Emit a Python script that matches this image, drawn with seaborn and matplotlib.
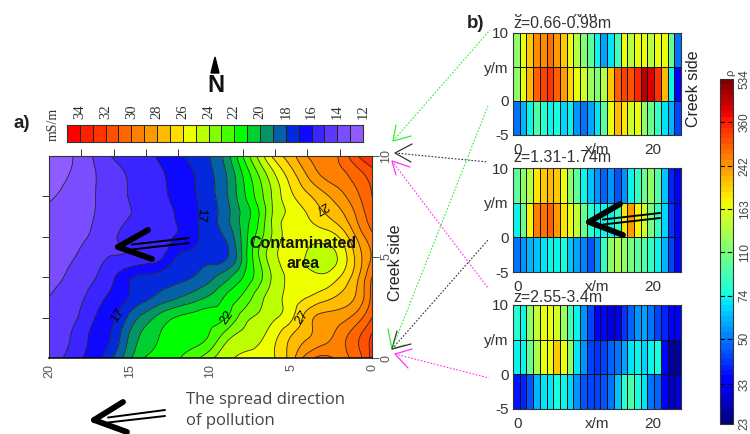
import numpy as np
import pandas as pd
import matplotlib
matplotlib.use("Agg")
import matplotlib.pyplot as plt
import matplotlib.tri as mtri
from matplotlib.cm import ScalarMappable
from matplotlib.colors import BoundaryNorm, ListedColormap, LogNorm
from matplotlib.transforms import Bbox
import seaborn as sns

W, H = 750, 434

# --- mapa de condutividade (a) ---
dist_x = [20, 19, 18, 17, 16, 15, 14, 13, 12, 11, 10, 9, 8, 7, 6, 5, 4, 3, 2, 1, 0]
dist_y = [0, 1, 2, 3, 4, 5, 6, 7, 8, 9, 10]
row_y0 = [14.3, 15.1, 15.95, 16.7, 18.1, 19.8, 21.1, 21.5, 21.9, 22.8, 23.7, 24.7, 25.3, 25.6, 26.0, 27.5, 29.5, 30.3, 29.8, 30.4, 32.4]
row_y1 = [14.5, 14.8, 15.6, 16.4, 17.3, 19.2, 20.4, 21.1, 21.3, 21.6, 22.2, 23.7, 24.3, 24.8, 25.8, 27.1, 27.95, 28.6, 29.5, 30.7, 32.2]
row_y2 = [14.3, 14.6, 15.2, 16.1, 16.85, 18.3, 19.5, 20.5, 21.1, 21.4, 21.7, 22.0, 23.5, 24.2, 24.9, 25.8, 27.5, 28.3, 28.6, 29.4, 31.0]
row_y3 = [14.0, 14.45, 14.85, 15.65, 16.3, 17.1, 17.75, 18.4, 18.95, 19.55, 20.2, 21.2, 22.2, 23.6, 24.65, 25.4, 26.0, 26.6, 27.2, 28.1, 30.3]
row_y4 = [13.5, 14.05, 14.5, 15.05, 15.9, 16.85, 17.2, 17.45, 17.7, 18.05, 18.75, 19.7, 21.0, 22.6, 24.4, 25.2, 25.3, 25.2, 26.0, 27.6, 30.0]
row_y5 = [13.4, 13.75, 14.2, 14.7, 15.05, 15.15, 15.4, 15.9, 17.1, 17.4, 17.65, 17.9, 20.2, 23.0, 24.8, 25.45, 24.9, 24.6, 25.2, 27.2, 29.1]
row_y6 = [13.2, 13.5, 13.85, 14.3, 14.9, 15.25, 15.5, 15.8, 16.1, 16.75, 17.5, 18.2, 20.3, 22.5, 24.4, 25.4, 25.3, 25.4, 26.1, 28.0, 29.7]
row_y7 = [13.1, 13.4, 13.7, 14.1, 14.6, 15.0, 15.35, 15.7, 16.1, 16.8, 17.6, 18.7, 20.3, 22.0, 24.4, 25.2, 25.95, 26.8, 27.6, 29.0, 30.6]
row_y8 = [12.85, 13.25, 13.65, 14.05, 14.55, 15.05, 15.4, 15.8, 16.3, 16.9, 17.7, 18.9, 20.7, 22.5, 24.4, 25.8, 26.8, 27.7, 28.6, 29.7, 31.0]
row_y9 = [12.2, 12.9, 13.4, 14.05, 14.6, 15.1, 15.5, 15.9, 16.4, 17.0, 17.8, 19.0, 21.0, 23.0, 24.9, 26.5, 28.0, 29.1, 29.6, 30.4, 31.4]
row_y10 = [12.3, 12.7, 13.4, 14.3, 15.1, 15.5, 15.8, 16.2, 16.8, 17.4, 18.0, 19.5, 22.0, 24.3, 26.4, 27.6, 29.0, 29.6, 30.1, 31.8, 33.0]
cond = [row_y0, row_y1, row_y2, row_y3, row_y4, row_y5, row_y6, row_y7, row_y8, row_y9, row_y10]

cond_levels = [12, 13, 14, 15, 16, 17, 18, 19, 20, 21, 22, 23, 24, 25, 26, 27, 28, 29, 30, 31, 32, 33, 34, 35]
cond_colors = ["#8F5CFF", "#7A4DFF", "#5C38FF", "#3A24FF", "#0F08FF", "#0428DC", "#0560A8", "#059468",
               "#00D030", "#00FF00", "#44FF00", "#80FF00", "#BBFF00", "#EEFF00", "#FFDD00", "#FFBB00",
               "#FF9900", "#FF8000", "#FF6600", "#FF5000", "#FF3300", "#FF1E00", "#FF0000"]
bar_values = [34.5, 33.5, 32.5, 31.5, 30.5, 29.5, 28.5, 27.5, 26.5, 25.5, 24.5, 23.5,
              22.5, 21.5, 20.5, 19.5, 18.5, 17.5, 16.5, 15.5, 14.5, 13.5, 12.5]
bar_labels = ["34", "32", "30", "28", "26", "24", "22", "20", "18", "16", "14", "12"]

# --- resistividade por camada (b) ---
rho_ticks = [23, 33, 50, 74, 110, 163, 242, 360, 534]
p1_top = [120, 165, 205, 250, 245, 270, 235, 205, 165, 135, 115, 100, 72, 58, 68, 90, 165, 140, 165, 165, 135, 165, 165, 105, 50]
p1_mid = [120, 170, 210, 290, 320, 340, 290, 240, 195, 165, 150, 125, 115, 140, 205, 290, 320, 300, 360, 450, 410, 340, 210, 72, 33]
p1_bot = [50, 60, 72, 95, 80, 72, 78, 65, 72, 55, 50, 58, 70, 100, 165, 210, 185, 150, 165, 120, 105, 85, 70, 60, 42]
p2_top = [100, 120, 140, 185, 205, 220, 205, 165, 120, 100, 72, 62, 55, 48, 55, 45, 55, 72, 85, 105, 120, 92, 62, 38, 33]
p2_mid = [72, 105, 180, 260, 280, 290, 240, 190, 165, 145, 105, 80, 72, 72, 72, 85, 190, 240, 175, 150, 110, 85, 65, 40, 33]
p2_bot = [50, 55, 60, 62, 70, 72, 72, 75, 62, 58, 52, 45, 55, 85, 120, 130, 120, 110, 100, 95, 85, 72, 60, 42, 33]
p3_top = [80, 72, 120, 145, 165, 170, 150, 125, 88, 72, 55, 42, 33, 35, 30, 32, 40, 48, 55, 58, 50, 42, 38, 33, 33]
p3_mid = [72, 72, 105, 130, 165, 170, 205, 170, 120, 70, 55, 42, 40, 42, 48, 50, 58, 68, 72, 65, 72, 75, 35, 26, 26]
p3_bot = [36, 38, 45, 60, 70, 70, 75, 72, 65, 55, 45, 42, 42, 45, 50, 62, 80, 95, 75, 68, 50, 48, 33, 28, 30]
layers = ["z=0.66-0.98m", "z=1.31-1.74m", "z=2.55-3.4m"]
y_labels = ["10", "y/m", "0", "-5"]

sns.set_style("white")
plt.rcParams["font.family"] = ["Liberation Sans", "DejaVu Sans"]


def box(x0, y0, x1, y1):
    # converte caixa em pixels para fracao da figura
    return [x0 / W, 1 - y1 / H, (x1 - x0) / W, (y1 - y0) / H]


fig = plt.figure(figsize=(W / 100, H / 100), dpi=100)

# --- mapa principal: curvas suaves pelo refinador do proprio matplotlib ---
ax = fig.add_axes(box(49, 156, 372, 358))
gx, gy = np.meshgrid(dist_x, dist_y)
tri = mtri.Triangulation(gx.ravel(), gy.ravel())
tri_f, z_f = mtri.UniformTriRefiner(tri).refine_field(np.ravel(cond), subdiv=3)
ax.tricontourf(tri_f, z_f, levels=cond_levels, colors=cond_colors, extend="neither")
ax.tricontour(tri_f, z_f, levels=cond_levels, colors="#2a2a2a", linewidths=0.6)
ax.set_xlim(20, 0)
ax.set_ylim(0, 10)
ax.set_xticks([20, 15, 10, 5, 0])
ax.set_xticks([20, 18, 16, 14, 12, 10, 8, 6, 4, 2, 0], minor=True)
ax.set_yticks([0, 5, 10])
ax.set_yticks([0, 2, 4, 6, 8, 10], minor=True)
ax.tick_params(axis="x", which="major", bottom=False, top=False, pad=1, labelsize=9, labelrotation=90, labelcolor="#555555")
ax.tick_params(axis="x", which="minor", bottom=False, top=True, length=5, width=0.7, color="#333333")
ax.tick_params(axis="y", which="major", left=False, right=True, labelleft=False, labelright=True,
               length=5, width=0.7, color="#555555", pad=1, labelsize=9, labelrotation=90, labelcolor="#555555")
ax.tick_params(axis="y", which="minor", left=True, right=False, length=5, width=0.7, color="#333333")
for lab in ax.get_yticklabels():
    lab.set_verticalalignment("center")
for s in ax.spines.values():
    s.set_visible(True)
    s.set_linewidth(0.8)
    s.set_color("#333333")
ax.spines["bottom"].set_color("black")
ax.spines["bottom"].set_linewidth(1.1)

# --- legenda em celulas do mapa ---
bar_ax = fig.add_axes(box(67, 125, 363, 142))
sns.heatmap([bar_values], ax=bar_ax, cbar=False, cmap=ListedColormap(cond_colors),
            norm=BoundaryNorm(cond_levels, len(cond_colors)), linewidths=0.7, linecolor="#222222",
            xticklabels=False, yticklabels=False)
bar_ax.set_xticks([1, 3, 5, 7, 9, 11, 13, 15, 17, 19, 21, 23])
bar_ax.set_xticklabels(bar_labels, rotation=90, family="Liberation Serif", fontsize=10.5, color="#333333")
bar_ax.tick_params(axis="x", bottom=False, top=False, labelbottom=False, labeltop=True, pad=1)
bar_ax.set_yticks([])
for s in bar_ax.spines.values():
    s.set_visible(True)
    s.set_linewidth(0.8)
    s.set_color("#333333")

# --- paineis de resistividade ---
rho_norm = LogNorm(vmin=23, vmax=534)
rho_cmap = plt.get_cmap("jet", 64)
panels = [(33, 135, p1_top, p1_mid, p1_bot), (168, 272, p2_top, p2_mid, p2_bot), (305, 409, p3_top, p3_mid, p3_bot)]
for (y0, y1, top, mid, bot), layer in zip(panels, layers):
    pax = fig.add_axes(box(513, y0, 681, y1))
    df = pd.DataFrame([top, mid, bot])
    sns.heatmap(df, ax=pax, cbar=False, cmap=rho_cmap, norm=rho_norm, linewidths=0.7, linecolor="#111111",
                xticklabels=False, yticklabels=False)
    pax.set_yticks([0, 1, 2, 3])
    pax.set_yticklabels(y_labels, rotation=0, fontsize=11, color="#333333")
    pax.set_xticks([0.7, 12.5, 20.8])
    pax.set_xticklabels(["0", "x/m", "20"], rotation=0, fontsize=11, color="#333333")
    pax.tick_params(axis="x", length=0, pad=6)
    pax.tick_params(axis="y", length=0, pad=3)
    for s in pax.spines.values():
        s.set_visible(True)
        s.set_linewidth(0.8)
        s.set_color("#333333")

# --- barra de cores ---
cax = fig.add_axes(box(720, 79, 733, 424))
cb = fig.colorbar(ScalarMappable(norm=rho_norm, cmap=rho_cmap), cax=cax)
cb.set_ticks(rho_ticks)
cb.set_ticklabels([str(t) for t in rho_ticks], rotation=90, va="center", family="Liberation Sans", fontsize=8.5, color="#444444")
cb.minorticks_off()
cax.tick_params(axis="y", length=0, pad=4)
for t in rho_ticks[1:-1]:
    cax.axhline(t, color="black", lw=0.8, ls=(0, (4, 2.5)))
cb.outline.set_edgecolor("#333333")
cb.outline.set_linewidth(0.8)

# --- camada de anotacoes em pixels ---
ov = fig.add_axes([0, 0, 1, 1], zorder=10)
ov.set_xlim(0, W)
ov.set_ylim(H, 0)
ov.axis("off")
ov.patch.set_alpha(0)


def big_arrow(tip, barb1, barb2, end1, end2):
    for b in (barb1, barb2):
        ov.plot([tip[0], b[0]], [tip[1], b[1]], color="black", lw=4.2, solid_capstyle="round")
    for e, off in ((end1, -2.5), (end2, 2.5)):
        ov.plot([tip[0] + 14, e[0]], [tip[1] + off, e[1]], color="black", lw=1.4)


big_arrow((118, 247), (148, 230), (152, 259), (189, 238), (189, 243))
big_arrow((589, 222), (620, 204), (623, 235), (660, 213), (660, 218))
big_arrow((94, 420), (123, 402), (127, 432), (165, 410), (165, 416))


def chevron(tip, a1, a2, color):
    ov.plot([a1[0], tip[0], a2[0]], [a1[1], tip[1], a2[1]], color=color, lw=0.9)


green, magenta, dark = "#33EE33", "#FF33EE", "#333333"
chevron((393, 141), (396, 125), (411, 136), green)
chevron((395, 153), (412, 144), (411, 162), dark)
chevron((392, 161), (410, 167), (396, 175), magenta)
chevron((392, 349), (388, 329), (405, 345), green)
chevron((392, 349), (397, 331), (411, 344), dark)
chevron((395, 354), (412, 349), (408, 368), magenta)
for line, c in (([(393, 141), (490, 30)], green), ([(392, 349), (488, 106)], green),
                ([(395, 153), (488, 162)], dark), ([(392, 349), (488, 240)], dark),
                ([(392, 161), (488, 288)], magenta), ([(395, 354), (489, 378)], magenta)):
    ov.plot([line[0][0], line[1][0]], [line[0][1], line[1][1]], color=c, lw=0.8, ls=(0, (1.5, 1.5)))

# norte
ov.fill([215, 211, 219], [57, 73, 73], color="black")
ov.text(216, 85, "N", ha="center", va="center", fontsize=17, fontweight="bold", color="#111111")

ov.text(13, 124, "a)", ha="left", va="center", fontsize=13.5, fontweight="bold", color="#222222")
ov.text(467, 24, "b)", ha="left", va="center", fontsize=13.5, fontweight="bold", color="#222222")
ov.text(53, 124, "mS/m", rotation=90, ha="center", va="center", family="Liberation Serif", fontsize=10, color="#333333")

ov.text(303, 243, "Contaminated", ha="center", va="center", fontsize=11.5, fontweight="bold", color="#111111")
ov.text(303, 264, "area", ha="center", va="center", fontsize=11.5, fontweight="bold", color="#111111")
ov.text(396, 263, "Creek side", rotation=90, ha="center", va="center", fontsize=11.5, color="#222222")
ov.text(693, 89, "Creek side", rotation=90, ha="center", va="center", fontsize=11.5, color="#222222")
ov.text(186, 400, "The spread direction", ha="left", va="center", family="Open Sans", fontsize=12, color="#444444")
ov.text(186, 421, "of pollution", ha="left", va="center", family="Open Sans", fontsize=12, color="#444444")
ov.text(730, 73, "ρ", rotation=90, ha="center", va="center", fontsize=8, color="#444444")

# rotulos das curvas
for px, py, txt, rot in ((200, 215, "17", -95), (118, 316, "17", 55), (227, 318, "22", 55),
                         (302, 318, "27", 55), (321, 207, "27", -150)):
    ov.text(px, py, txt, rotation=rot, ha="center", va="center", fontsize=9, color="black", rotation_mode="anchor")

# titulos das camadas
for y, layer in zip((23, 158, 297), layers):
    ov.text(513, y, layer, ha="left", va="center", fontsize=11.5, color="#333333")

# restos de rotulos cortados acima do primeiro painel
clip = Bbox([[510, H - 22], [620, H - 14]])
for px, txt in ((518, "0"), (585, "x/m")):
    t = ov.text(px, 13, txt, ha="center", va="center", fontsize=11, color="#333333")
    t.set_clip_box(clip)
    t.set_clip_on(True)

fig.savefig("out.png", dpi=100)
